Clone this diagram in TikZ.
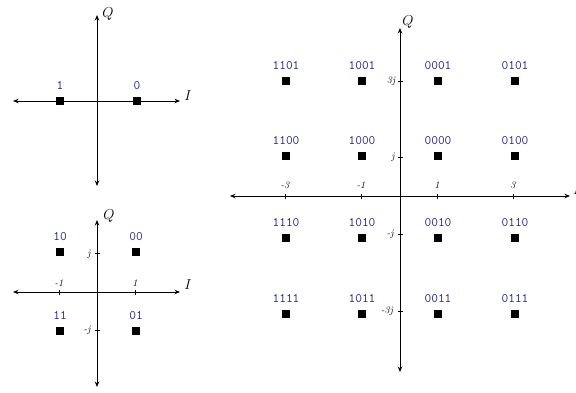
\documentclass[tikz,border=0pt]{standalone}
\usetikzlibrary{arrows.meta}
\definecolor{lblblue}{RGB}{36,36,130}
\tikzset{
  axis/.style={line width=1pt, {Stealth[length=5.5pt,width=4.5pt]}-{Stealth[length=5.5pt,width=4.5pt]}},
  sym/.style={rectangle, fill=black, minimum size=7.5pt, inner sep=0pt},
  lbl/.style={text=lblblue, font=\fontsize{13}{13}\selectfont\ttfamily, inner sep=0pt},
  axlbl/.style={font=\fontsize{14}{14}\selectfont, inner sep=0pt},
  ticklbl/.style={font=\fontsize{10}{10}\selectfont\itshape, inner sep=0pt},
  tickmark/.style={line width=0.8pt},
  every label/.style={lbl},
  label distance=7.5pt
}
\begin{document}
\begin{tikzpicture}[x=1pt,y=-1pt]
\useasboundingbox (0,0) rectangle (576,392);

% ---------- BPSK ----------
\coordinate (aL) at (13,101);
\coordinate (aR) at (180,101);
\coordinate (aT) at (97,15);
\coordinate (aB) at (97,186);
\draw[axis] (aL) -- (aR);
\draw[axis] (aB) -- (aT);
\node[axlbl] (aQ) at (108,14) {$Q$};
\node[axlbl] (aI) at (188,96) {$I$};
\node[sym, label=above:1] (b1) at (60,101) {};
\node[sym, label=above:0] (b0) at (137,101) {};

% ---------- QPSK ----------
\coordinate (qL) at (13,292);
\coordinate (qR) at (180,292);
\coordinate (qT) at (97,220);
\coordinate (qB) at (97,387);
\draw[axis] (qL) -- (qR);
\draw[axis] (qB) -- (qT);
\node[axlbl] (qQ) at (109,216) {$Q$};
\node[axlbl] (qI) at (188,285) {$I$};
\draw[tickmark] (59,289.5) -- (59,294.5);
\draw[tickmark] (135,289.5) -- (135,294.5);
\draw[tickmark] (94.5,253) -- (99.5,253);
\draw[tickmark] (94.5,330) -- (99.5,330);
\node[ticklbl] (qtm1) at (59,283) {-1};
\node[ticklbl] (qt1) at (135,283) {1};
\node[ticklbl] (qtj) at (89,254) {j};
\node[ticklbl] (qtmj) at (87,330) {-j};
\node[sym, label=above:10] (q10) at (60,252) {};
\node[sym, label=above:00] (q00) at (136,252) {};
\node[sym, label=above:11] (q11) at (60,331) {};
\node[sym, label=above:01] (q01) at (136,331) {};

% ---------- 16-QAM ----------
\coordinate (mL) at (230,196);
\coordinate (mR) at (570,196);
\coordinate (mT) at (400,28);
\coordinate (mB) at (400,372);
\draw[axis] (mL) -- (mR);
\draw[axis] (mB) -- (mT);
\node[axlbl] (mQ) at (408,22) {$Q$};
\node[axlbl, anchor=west] (mI) at (573,190) {$I$};
\foreach \x/\t in {285/-3,361/-1,437/1,513/3}{
  \draw[tickmark] (\x,193.5) -- (\x,198.5);
  \node[ticklbl] at (\x,185) {\t};
}
\foreach \y/\t/\xx in {81/3j/391,157/j/393,234/-j/390,311/-3j/387}{
  \draw[tickmark] (397.5,\y) -- (402.5,\y);
  \node[ticklbl] at (\xx,\y) {\t};
}
\node[sym, label=above:1101] (m1101) at (286,81) {};
\node[sym, label=above:1001] (m1001) at (362,81) {};
\node[sym, label=above:0001] (m0001) at (438,81) {};
\node[sym, label=above:0101] (m0101) at (515,81) {};
\node[sym, label=above:1100] (m1100) at (286,156) {};
\node[sym, label=above:1000] (m1000) at (362,156) {};
\node[sym, label=above:0000] (m0000) at (438,156) {};
\node[sym, label=above:0100] (m0100) at (515,156) {};
\node[sym, label=above:1110] (m1110) at (286,238) {};
\node[sym, label=above:1010] (m1010) at (362,238) {};
\node[sym, label=above:0010] (m0010) at (438,238) {};
\node[sym, label=above:0110] (m0110) at (515,238) {};
\node[sym, label=above:1111] (m1111) at (286,314) {};
\node[sym, label=above:1011] (m1011) at (362,314) {};
\node[sym, label=above:0011] (m0011) at (438,314) {};
\node[sym, label=above:0111] (m0111) at (515,314) {};
\end{tikzpicture}
\end{document}
